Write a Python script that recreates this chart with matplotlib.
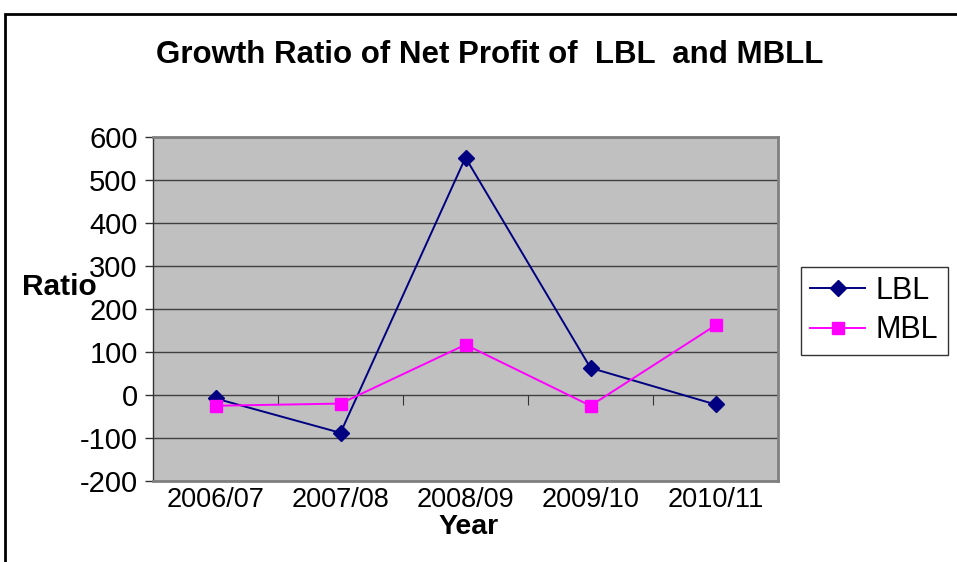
import matplotlib.pyplot as plt
from matplotlib.patches import Rectangle

years = ['2006/07', '2007/08', '2008/09', '2009/10', '2010/11']
lbl = [-8, -88, 552, 63, -22]
mbl = [-25, -20, 117, -25, 162]
y_ticks = [-200, -100, 0, 100, 200, 300, 400, 500, 600]

plt.rcParams['font.family'] = ['Liberation Sans', 'DejaVu Sans']

W, H = 957, 562
fig = plt.figure(figsize=(W / 100, H / 100), dpi=100)

# outer chart border (Excel style)
fig.patches.append(Rectangle((5 / W, -0.05), 1.2, (H - 14) / H + 0.05, transform=fig.transFigure,
                             fill=False, edgecolor='black', linewidth=2))

ax = fig.add_axes([153 / W, (H - 481) / H, (778 - 153) / W, (481 - 137) / H])
ax.set_facecolor('#C0C0C0')
x = list(range(len(years)))
ax.plot(x, lbl, color='#000080', marker='D', markersize=8, linewidth=1.4, label='LBL')
ax.plot(x, mbl, color='#FF00FF', marker='s', markersize=8.5, linewidth=1.4, label='MBL')

ax.set_xlim(-0.5, len(years) - 0.5)
ax.set_ylim(-200, 600)
ax.set_yticks(y_ticks)
ax.set_yticklabels([str(v) for v in y_ticks], fontsize=21)
ax.set_xticks(x)
ax.set_xticklabels(years, fontsize=19.5)
ax.tick_params(axis='x', length=0, pad=4)
ax.tick_params(axis='y', direction='out', length=6, width=1, pad=5, color='#333333')
ax.yaxis.grid(True, color='#404040', linewidth=1)
ax.set_axisbelow(True)
for s in ['top', 'right', 'bottom']:
    ax.spines[s].set_color('#808080')
    ax.spines[s].set_linewidth(2)
ax.spines['left'].set_color('#333333')
ax.spines['left'].set_linewidth(1)

# category axis crossing at zero, with tick marks between categories
sec = ax.secondary_xaxis(0.25)
sec.set_xticks([i + 0.5 for i in x])
sec.tick_params(direction='out', length=7, labelbottom=False, color='#333333')
sec.spines['bottom'].set_visible(False)

fig.text(490 / W, (H - 63) / H, 'Growth Ratio of Net Profit of  LBL  and MBLL', fontsize=22.5,
         fontweight='bold', ha='center', va='baseline')
fig.text(22 / W, (H - 295) / H, 'Ratio', fontsize=21.5, fontweight='bold', va='baseline', ha='left')
fig.text(469 / W, (H - 534) / H, 'Year', fontsize=20.5, fontweight='bold', va='baseline', ha='center')

leg = ax.legend(loc='upper left', bbox_to_anchor=(801 / W, (H - 267) / H), bbox_transform=fig.transFigure,
                fontsize=22, frameon=True, fancybox=False, edgecolor='black', handlelength=1.8,
                handletextpad=0.35, borderpad=0.3, labelspacing=0.3, borderaxespad=0)
leg.get_frame().set_linewidth(1)

fig.savefig('out.png', dpi=100)
